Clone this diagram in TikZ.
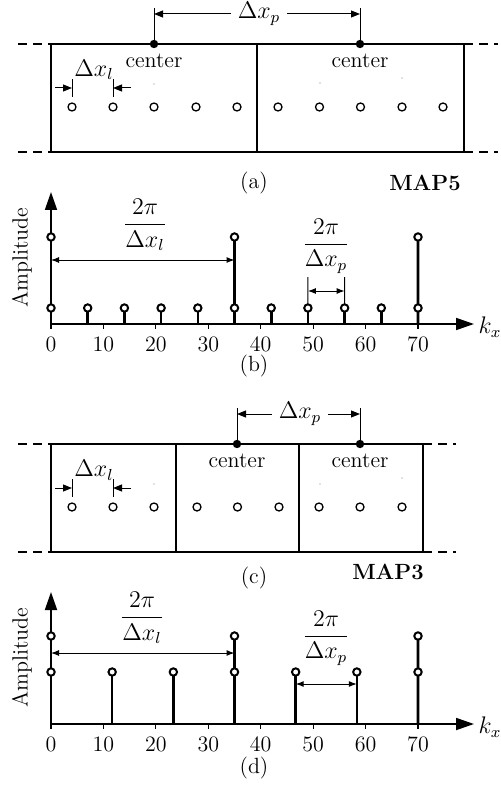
\documentclass[tikz,border=0pt]{standalone}
\usepackage{amsmath}
\usetikzlibrary{arrows.meta}
\begin{document}
\begin{tikzpicture}[x=0.5pt,y=-0.5pt,
  font=\fontsize{11}{13}\selectfont,
  mathlab/.style={font=\fontsize{12}{14}\selectfont},
  boxline/.style={line width=0.8pt},
  dashline/.style={line width=0.8pt,dash pattern=on 4.5pt off 3pt},
  ocirc/.style={circle,draw,line width=0.65pt,fill=white,inner sep=0pt,minimum size=4pt},
  fdot/.style={circle,fill=black,inner sep=0pt,minimum size=4.2pt},
  dimline/.style={line width=0.5pt},
  dimarrow/.style={line width=0.5pt,-{Triangle[length=4.5pt,width=3.5pt]}},
  dblarrow/.style={line width=0.5pt,{Latex[length=4pt,width=3pt]}-{Latex[length=4pt,width=3pt]}},
  axisline/.style={line width=0.9pt,-{Triangle[length=9pt,width=6pt]}},
  tickline/.style={line width=0.6pt},
  stemline/.style={line width=1.3pt},
  scirc/.style={circle,draw,line width=1pt,fill=white,inner sep=0pt,minimum size=3.7pt},
  tinydot/.style={fill=gray},
  boldlab/.style={font=\fontsize{11}{13}\selectfont\bfseries}
]
\useasboundingbox (0,0) rectangle (501,791);

%% ================= (a) =================
\draw[boxline] (51,44) rectangle (464,152);
\draw[boxline] (257,44) -- (257,152);
\draw[dashline] (18,44) -- (51,44);
\draw[dashline] (18,152) -- (51,152);
\draw[dashline] (464,44) -- (498,44);
\draw[dashline] (464,152) -- (498,152);
\foreach \x [count=\i] in {72,113,154,196,237,278,319.5,360.5,402,443}
  \node[ocirc] (ma\i) at (\x,107) {};
\foreach \p in {(154,84),(320,83),(402,78)} \fill[tinydot] \p circle (0.35pt);
\node[fdot] (ca1) at (154,44) {};
\node[fdot] (ca2) at (360,44) {};
\node (cla1) at (154,61) {center};
\node (cla2) at (360,61) {center};
\coordinate (ta1) at (154,8);
\coordinate (ta2) at (360,8);
\draw[dimline] (ca1.center) -- (ta1);
\draw[dimline] (ca2.center) -- (ta2);
\node[mathlab] (dxpa) at (259,14) {$\Delta x_p$};
\coordinate (pa1) at (154,14);
\coordinate (pa2) at (360,14);
\draw[dimarrow] (dxpa.west) -- (pa1);
\draw[dimarrow] (dxpa.east) -- (pa2);
\node[mathlab] (dxla) at (94,70) {$\Delta x_l$};
\coordinate (lta1) at (72,79); \coordinate (lba1) at (72,97);
\coordinate (lta2) at (113,79); \coordinate (lba2) at (113,97);
\draw[dimline] (lta1) -- (lba1);
\draw[dimline] (lta2) -- (lba2);
\coordinate (lsa1) at (55,88); \coordinate (lea1) at (72,88);
\coordinate (lsa2) at (131,88); \coordinate (lea2) at (113,88);
\draw[dimarrow] (lsa1) -- (lea1);
\draw[dimarrow] (lsa2) -- (lea2);
\node (capa) at (254,183) {(a)};
\node[boldlab] (mapa) at (425,183) {MAP5};

%% ================= (b) =================
\coordinate (ob) at (51,324);
\coordinate (xeb) at (474,324);
\coordinate (yeb) at (51,192);
\draw[axisline] (ob) -- (xeb);
\draw[axisline] (ob) -- (yeb);
\foreach \t/\lab [count=\i] in {0/0,1/10,2/20,3/30,4/40,5/50,6/60,7/70} {
  \coordinate (tkb\i) at ({51+52.43*\t},324);
  \draw[tickline] (tkb\i) -- ++(0,5);
  \node (tlb\i) at ({51+52.43*\t},344) {\lab};
}
\node[mathlab] (kxb) at (490,327) {$k_x$};
\node[rotate=90] (ampb) at (22,258) {Amplitude};
\foreach \k [count=\i] in {0,7,...,70} {
  \coordinate (bb\i) at ({51+5.243*\k},324);
  \coordinate (bc\i) at ({51+5.243*\k},308);
}
\coordinate (bh1) at (51,237);
\coordinate (bh2) at (234.5,237);
\coordinate (bh3) at (418,237);
\draw[stemline] (bb1) -- (bh1);
\draw[stemline] (bb6) -- (bh2);
\draw[stemline] (bb11) -- (bh3);
\foreach \i in {2,3,4,5,7,8,9,10} \draw[stemline] (bb\i) -- (bc\i);
\coordinate (dtb1) at (307.9,277);
\coordinate (dtb2) at (344.6,277);
\draw[dimline] (dtb1) -- (bc8);
\draw[dimline] (dtb2) -- (bc9);
\foreach \i in {1,...,11} \node[scirc] (bcn\i) at (bc\i) {};
\node[scirc] (bhn1) at (bh1) {};
\node[scirc] (bhn2) at (bh2) {};
\node[scirc] (bhn3) at (bh3) {};
\coordinate (al1) at (51,260);
\coordinate (al2) at (234.5,260);
\draw[dblarrow] (al1) -- (al2);
\coordinate (ap1) at (307.9,291);
\coordinate (ap2) at (344.6,291);
\draw[dblarrow] (ap1) -- (ap2);
\node[mathlab] (frlb) at (145,225) {$\dfrac{2\pi}{\Delta x_l}$};
\node[mathlab] (frpb) at (326,246) {$\dfrac{2\pi}{\Delta x_p}$};
\node (capb) at (254,366) {(b)};

%% ================= (c) =================
\draw[boxline] (51,444) rectangle (423,552);
\draw[boxline] (176,444) -- (176,552);
\draw[boxline] (299,444) -- (299,552);
\draw[dashline] (18,444) -- (51,444);
\draw[dashline] (18,552) -- (51,552);
\draw[dashline] (423,444) -- (456,444);
\draw[dashline] (423,552) -- (456,552);
\foreach \x [count=\i] in {72,113,154,197,237.5,279,319,360,402}
  \node[ocirc] (mc\i) at (\x,507) {};
\foreach \p in {(154,484),(320,484),(402,478)} \fill[tinydot] \p circle (0.35pt);
\node[fdot] (cc1) at (237,444) {};
\node[fdot] (cc2) at (360,444) {};
\node (clc1) at (237,461) {center};
\node (clc2) at (360,461) {center};
\coordinate (tc1) at (237,408);
\coordinate (tc2) at (360,408);
\draw[dimline] (cc1.center) -- (tc1);
\draw[dimline] (cc2.center) -- (tc2);
\node[mathlab] (dxpc) at (300,414) {$\Delta x_p$};
\coordinate (pc1) at (237,414);
\coordinate (pc2) at (360,414);
\draw[dimarrow] (dxpc.west) -- (pc1);
\draw[dimarrow] (dxpc.east) -- (pc2);
\node[mathlab] (dxlc) at (94,470) {$\Delta x_l$};
\coordinate (ltc1) at (72,479); \coordinate (lbc1) at (72,497);
\coordinate (ltc2) at (113,479); \coordinate (lbc2) at (113,497);
\draw[dimline] (ltc1) -- (lbc1);
\draw[dimline] (ltc2) -- (lbc2);
\coordinate (lsc1) at (55,488); \coordinate (lec1) at (72,488);
\coordinate (lsc2) at (131,488); \coordinate (lec2) at (113,488);
\draw[dimarrow] (lsc1) -- (lec1);
\draw[dimarrow] (lsc2) -- (lec2);
\node (capc) at (254,578) {(c)};
\node[boldlab] (mapc) at (388,572) {MAP3};

%% ================= (d) =================
\coordinate (od) at (51,724);
\coordinate (xed) at (474,724);
\coordinate (yed) at (51,592);
\draw[axisline] (od) -- (xed);
\draw[axisline] (od) -- (yed);
\foreach \t/\lab [count=\i] in {0/0,1/10,2/20,3/30,4/40,5/50,6/60,7/70} {
  \coordinate (tkd\i) at ({51+52.43*\t},724);
  \draw[tickline] (tkd\i) -- ++(0,5);
  \node (tld\i) at ({51+52.43*\t},744) {\lab};
}
\node[mathlab] (kxd) at (490,727) {$k_x$};
\node[rotate=90] (ampd) at (22,658) {Amplitude};
\foreach \k [count=\i] in {0,11.6667,23.3333,35,46.6667,58.3333,70} {
  \coordinate (db\i) at ({51+5.243*\k},724);
  \coordinate (dc\i) at ({51+5.243*\k},672);
}
\coordinate (dh1) at (51,636);
\coordinate (dh2) at (234.5,636);
\coordinate (dh3) at (418,636);
\draw[stemline] (db1) -- (dh1);
\draw[stemline] (db4) -- (dh2);
\draw[stemline] (db7) -- (dh3);
\foreach \i in {2,3,5,6} \draw[stemline] (db\i) -- (dc\i);
\foreach \i in {1,...,7} \node[scirc] (dcn\i) at (dc\i) {};
\node[scirc] (dhn1) at (dh1) {};
\node[scirc] (dhn2) at (dh2) {};
\node[scirc] (dhn3) at (dh3) {};
\coordinate (dl1) at (51,653);
\coordinate (dl2) at (234.5,653);
\draw[dblarrow] (dl1) -- (dl2);
\coordinate (dp1) at (295.7,684);
\coordinate (dp2) at (356.8,684);
\draw[dblarrow] (dp1) -- (dp2);
\node[mathlab] (frld) at (142,618) {$\dfrac{2\pi}{\Delta x_l}$};
\node[mathlab] (frpd) at (326,638) {$\dfrac{2\pi}{\Delta x_p}$};
\node (capd) at (254,768) {(d)};
\end{tikzpicture}
\end{document}
